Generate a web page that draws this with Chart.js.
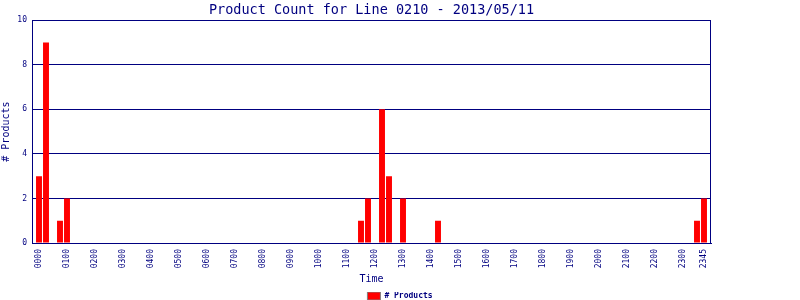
<!DOCTYPE html>
<html>
<head>
<meta charset="utf-8">
<title>Product Count for Line 0210</title>
<script src="https://cdn.jsdelivr.net/npm/chart.js@4"></script>
<style>
  html, body { margin: 0; padding: 0; background: #fff; }
  #wrap { width: 800px; height: 300px; }
</style>
</head>
<body>
<div id="wrap"><canvas id="my-chart" width="800" height="300"></canvas></div>
<script>
'use strict';

const NAVY = '#000080';
const MONO = '"DejaVu Sans Mono", monospace';

// 15 minute slots
const times = [
  '0000', '0015', '0030', '0045', '0100', '0115', '0130', '0145',
  '0200', '0215', '0230', '0245', '0300', '0315', '0330', '0345',
  '0400', '0415', '0430', '0445', '0500', '0515', '0530', '0545',
  '0600', '0615', '0630', '0645', '0700', '0715', '0730', '0745',
  '0800', '0815', '0830', '0845', '0900', '0915', '0930', '0945',
  '1000', '1015', '1030', '1045', '1100', '1115', '1130', '1145',
  '1200', '1215', '1230', '1245', '1300', '1315', '1330', '1345',
  '1400', '1415', '1430', '1445', '1500', '1515', '1530', '1545',
  '1600', '1615', '1630', '1645', '1700', '1715', '1730', '1745',
  '1800', '1815', '1830', '1845', '1900', '1915', '1930', '1945',
  '2000', '2015', '2030', '2045', '2100', '2115', '2130', '2145',
  '2200', '2215', '2230', '2245', '2300', '2315', '2330', '2345'
];

const productCounts = [
  3, 9, 0, 1, 2, 0, 0, 0,
  0, 0, 0, 0, 0, 0, 0, 0,
  0, 0, 0, 0, 0, 0, 0, 0,
  0, 0, 0, 0, 0, 0, 0, 0,
  0, 0, 0, 0, 0, 0, 0, 0,
  0, 0, 0, 0, 0, 0, 1, 2,
  0, 6, 3, 0, 2, 0, 0, 0,
  0, 1, 0, 0, 0, 0, 0, 0,
  0, 0, 0, 0, 0, 0, 0, 0,
  0, 0, 0, 0, 0, 0, 0, 0,
  0, 0, 0, 0, 0, 0, 0, 0,
  0, 0, 0, 0, 0, 0, 1, 2
];

// hourly labels plus the last slot
const xTickSlots = [
  0, 4, 8, 12, 16, 20, 24, 28, 32, 36, 40, 44,
  48, 52, 56, 60, 64, 68, 72, 76, 80, 84, 88, 92, 95
];

const yTicks = [0, 2, 4, 6, 8, 10];

let points = [];
for (let i = 0; i < times.length; i++) {
  points.push({ x: i, y: productCounts[i] });
}

// box round the plot area
const plotBorder = {
  id: 'plotBorder',
  afterDraw(chart) {
    const a = chart.chartArea;
    const ctx = chart.ctx;
    ctx.save();
    ctx.strokeStyle = NAVY;
    ctx.lineWidth = 1;
    ctx.strokeRect(Math.round(a.left) + 0.5, Math.round(a.top) + 0.5,
      Math.round(a.right - a.left) - 1, Math.round(a.bottom - a.top));
    ctx.restore();
  }
};

const chart = document.getElementById('my-chart').getContext('2d');

new Chart(chart, {
  type: 'bar',
  data: {
    datasets: [{
      label: '# Products',
      data: points,
      backgroundColor: '#ff0000',
      borderWidth: 0,
      categoryPercentage: 1,
      barPercentage: 0.85
    }]
  },
  options: {
    responsive: false,
    animation: false,
    layout: { padding: { left: 0, right: 0, top: 0, bottom: -10 } },
    plugins: {
      tooltip: { enabled: false },
      title: {
        display: true,
        text: 'Product Count for Line 0210 - 2013/05/11',
        color: NAVY,
        fullSize: false,
        font: { family: MONO, size: 13.5, weight: 'normal' },
        padding: { top: 2, bottom: 2 }
      },
      legend: {
        position: 'bottom',
        labels: {
          color: NAVY,
          font: { family: MONO, size: 8, weight: 'bold' },
          boxWidth: 13,
          boxHeight: 8,
          padding: 0,
          generateLabels(c) {
            return Chart.defaults.plugins.legend.labels.generateLabels(c).map(function (l) {
              l.strokeStyle = '#808080';
              l.lineWidth = 1;
              return l;
            });
          }
        }
      }
    },
    scales: {
      x: {
        type: 'linear',
        min: -1,
        max: 96,
        offset: false,
        grid: { display: false, drawTicks: false },
        border: { display: true, color: NAVY, width: 1 },
        afterFit(scale) { scale.height = 49; },
        afterBuildTicks(scale) {
          scale.ticks = xTickSlots.map(function (v) { return { value: v }; });
        },
        ticks: {
          color: NAVY,
          font: { family: MONO, size: 8 },
          autoSkip: false,
          minRotation: 90,
          maxRotation: 90,
          padding: 6,
          callback(value) {
            return times[value];
          }
        },
        title: {
          display: true,
          text: 'Time',
          color: NAVY,
          font: { family: MONO, size: 10 },
          padding: { top: 0, bottom: 7 }
        }
      },
      y: {
        min: yTicks[0],
        max: yTicks[yTicks.length - 1],
        afterFit(scale) { scale.width = 32; },
        afterBuildTicks(scale) {
          scale.ticks = yTicks.map(function (v) { return { value: v }; });
        },
        grid: { color: NAVY, lineWidth: 1, drawTicks: false },
        border: { display: true, color: NAVY, width: 1 },
        ticks: {
          color: NAVY,
          font: { family: MONO, size: 8 },
          padding: 5
        },
        title: {
          display: true,
          text: '# Products',
          color: NAVY,
          font: { family: MONO, size: 10 },
          padding: { top: 0, bottom: 0 }
        }
      },
      // empty right margin so the legend centres on the whole page
      margin: {
        type: 'linear',
        position: 'right',
        afterFit(scale) { scale.width = 89; },
        grid: { display: false, drawTicks: false },
        border: { display: false },
        ticks: { display: false }
      }
    }
  },
  plugins: [plotBorder]
});
</script>
</body>
</html>
